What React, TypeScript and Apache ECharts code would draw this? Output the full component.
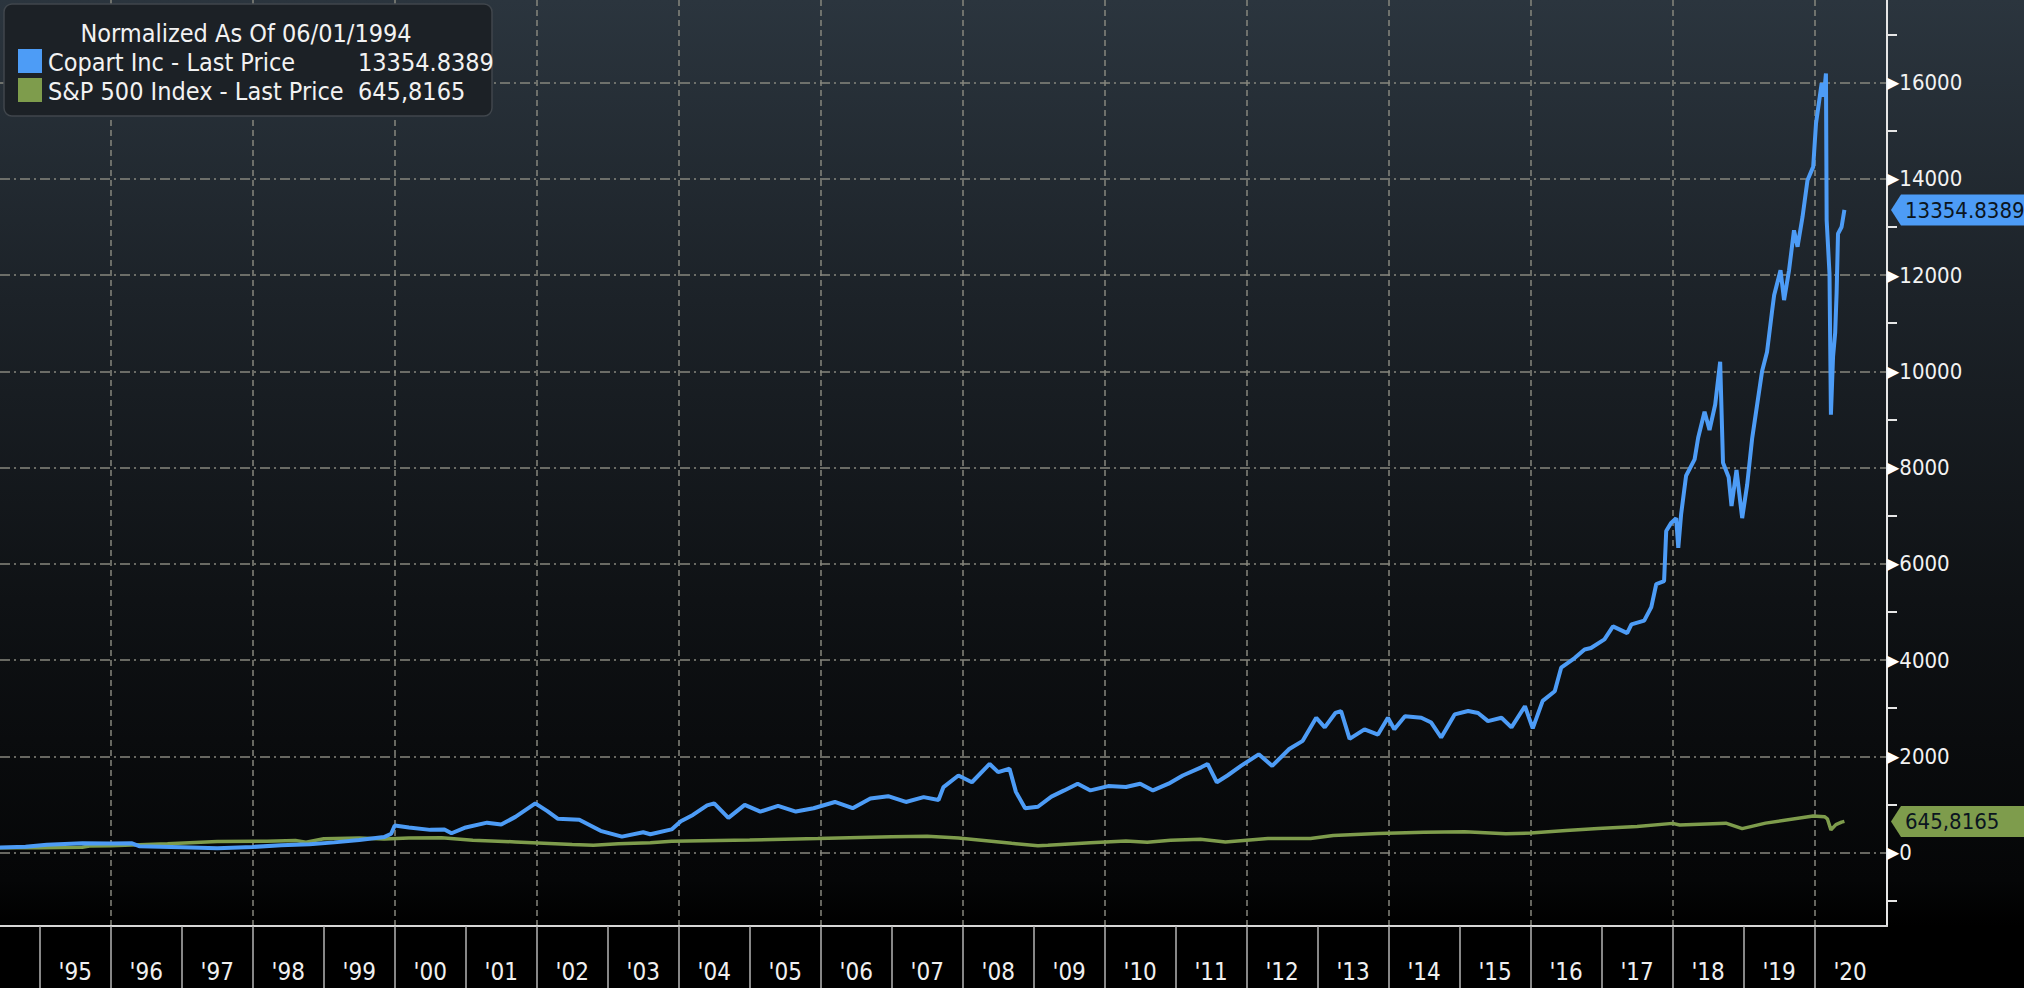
import React, { useEffect, useRef } from 'react';
import * as echarts from 'echarts';

// ---- data (decimal years / normalized values) ----
const copartYears = [
  1994.42, 1994.8, 1995.1, 1995.6, 1996.0, 1996.3, 1996.4, 1997.0, 1997.5, 1998.0,
  1998.4, 1998.8, 1999.15, 1999.5, 1999.85, 1999.95, 2000.0, 2000.2, 2000.5, 2000.7,
  2000.8, 2001.0, 2001.3, 2001.5, 2001.7, 2001.98, 2002.15, 2002.3, 2002.6, 2002.9,
  2003.2, 2003.5, 2003.6, 2003.9, 2004.03, 2004.2, 2004.4, 2004.5, 2004.7, 2004.93,
  2005.15, 2005.4, 2005.65, 2005.9, 2006.2, 2006.45, 2006.7, 2006.95, 2007.2, 2007.45,
  2007.66, 2007.73, 2007.94, 2008.13, 2008.38, 2008.5, 2008.66, 2008.75, 2008.88, 2009.06,
  2009.25, 2009.43, 2009.62, 2009.8, 2010.05, 2010.3, 2010.5, 2010.68, 2010.9, 2011.1,
  2011.36, 2011.45, 2011.58, 2011.73, 2011.92, 2012.17, 2012.36, 2012.6, 2012.79, 2012.98,
  2013.1, 2013.25, 2013.33, 2013.45, 2013.66, 2013.85, 2013.99, 2014.08, 2014.23, 2014.46,
  2014.6, 2014.74, 2014.93, 2015.12, 2015.26, 2015.4, 2015.59, 2015.73, 2015.92, 2016.03,
  2016.17, 2016.34, 2016.43, 2016.62, 2016.76, 2016.85, 2017.04, 2017.16, 2017.36, 2017.42,
  2017.6, 2017.7, 2017.77, 2017.88, 2017.91, 2017.98, 2018.05, 2018.08, 2018.12, 2018.19,
  2018.31, 2018.36, 2018.45, 2018.52, 2018.6, 2018.67, 2018.71, 2018.79, 2018.83, 2018.9,
  2018.98, 2019.05, 2019.12, 2019.17, 2019.26, 2019.33, 2019.4, 2019.43, 2019.52, 2019.57,
  2019.64, 2019.71, 2019.76, 2019.83, 2019.9, 2019.98, 2020.02, 2020.1, 2020.13, 2020.16,
  2020.17, 2020.21, 2020.23, 2020.26, 2020.29, 2020.31, 2020.33, 2020.38, 2020.42,
];
const copartValues = [
  100, 120, 160, 190, 185, 190, 130, 110, 90, 115,
  150, 170, 210, 260, 320, 390, 560, 520, 470, 480,
  400, 520, 620, 580, 740, 1020, 860, 700, 680, 450,
  330, 420, 380, 480, 650, 780, 980, 1020, 720, 990,
  850, 970, 850, 920, 1050, 920, 1120, 1170, 1050, 1150,
  1090, 1360, 1600, 1460, 1840, 1670, 1740, 1260, 920, 950,
  1160, 1290, 1430, 1290, 1380, 1360, 1430, 1290, 1430, 1600,
  1770, 1840, 1460, 1600, 1800, 2040, 1800, 2150, 2320, 2800,
  2600, 2900, 2940, 2360, 2560, 2450, 2800, 2560, 2830, 2800,
  2700, 2390, 2870, 2940, 2900, 2730, 2800, 2600, 3040, 2580,
  3150, 3350, 3840, 4040, 4220, 4250, 4430, 4700, 4560, 4740,
  4820, 5100, 5580, 5640, 6680, 6850, 6950, 6330, 7030, 7830,
  8170, 8620, 9160, 8780, 9310, 10200, 8100, 7800, 7200, 7950,
  6950, 7640, 8600, 9100, 10000, 10400, 11240, 11580, 12100, 11480,
  12100, 12930, 12590, 13210, 13970, 14250, 15150, 15990, 15710, 16190,
  13140, 12030, 9100, 10300, 10800, 11620, 12860, 13000, 13354.8389,
];

const spxYears = [
  1994.42, 1995.0, 1995.6, 1995.7, 1996.0, 1996.8, 1997.5, 1998.2, 1998.6, 1998.75,
  1999.0, 1999.5, 1999.85, 2000.2, 2000.66, 2001.1, 2001.7, 2002.5, 2002.8, 2003.15,
  2003.6, 2003.9, 2005.0, 2005.96, 2007.0, 2007.5, 2007.94, 2008.69, 2009.06, 2009.2,
  2009.8, 2010.3, 2010.6, 2010.93, 2011.35, 2011.7, 2012.3, 2012.9, 2013.22, 2013.85,
  2014.5, 2015.07, 2015.65, 2016.0, 2016.5, 2016.95, 2017.5, 2018.0, 2018.1, 2018.75,
  2018.98, 2019.31, 2019.98, 2020.14, 2020.18, 2020.23, 2020.3, 2020.38, 2020.42,
];
const spxValues = [
  100, 100, 110, 135, 140, 180, 230, 235, 250, 215,
  285, 300, 280, 300, 305, 255, 220, 165, 150, 180,
  200, 235, 260, 290, 325, 335, 300, 190, 140, 150,
  200, 240, 215, 255, 275, 220, 290, 290, 355, 395,
  420, 430, 390, 405, 455, 500, 540, 605, 570, 610,
  495, 610, 760, 745, 700, 470, 580, 630, 645.8165,
];

const yearTicks = [
  1995, 1996, 1997, 1998, 1999, 2000, 2001, 2002, 2003, 2004, 2005, 2006, 2007,
  2008, 2009, 2010, 2011, 2012, 2013, 2014, 2015, 2016, 2017, 2018, 2019, 2020,
];
const gridYears = [1996, 1998, 2000, 2002, 2004, 2006, 2008, 2010, 2012, 2014, 2016, 2018, 2020];
const yMajor = [0, 2000, 4000, 6000, 8000, 10000, 12000, 14000, 16000];
const yMinor = [-1000, 1000, 3000, 5000, 7000, 9000, 11000, 13000, 15000, 17000];

const legendTitle = 'Normalized As Of 06/01/1994';
const seriesNames = ['Copart Inc - Last Price', 'S&P 500 Index - Last Price'];
const lastLabels = ['13354.8389', '645,8165'];
const seriesColors = ['#4d9cf6', '#7e9c4c'];

const X_MIN = 1994.44;
const X_MAX = 2021.02;
const Y_MIN = -1528;
const Y_MAX = 17718;

const FONT = '"DejaVu Sans Condensed", "Liberation Sans Narrow", "DejaVu Sans", sans-serif';
const GRID_COLOR = '#86867e';

export default function App() {
  const ref = useRef<HTMLDivElement>(null);

  useEffect(() => {
    if (!ref.current) return;
    const chart = echarts.init(ref.current, undefined, { renderer: 'svg' });

    const yearLabelValues = yearTicks.map((y) => y + 0.5);
    const copartData = copartYears.map((y, i) => [y, copartValues[i]]);
    const spxData = spxYears.map((y, i) => [y, spxValues[i]]);

    const tag = (color: string, text: string, value: number) => ({
      silent: true,
      symbol: 'path://M0,16 L10,0 L150,0 L150,32 L10,32 Z',
      symbolSize: [150, 31],
      symbolKeepAspect: false,
      symbolOffset: [79, 0],
      itemStyle: { color },
      label: {
        show: true,
        position: [14, 16],
        align: 'left',
        verticalAlign: 'middle',
        color: '#0b1520',
        fontSize: 22,
        fontFamily: FONT,
        formatter: () => text,
      },
      data: [{ coord: [X_MAX, value] }],
    });

    const option: any = {
      animation: false,
      backgroundColor: 'transparent',
      grid: { left: 0, right: 137, top: 0, bottom: 62, containLabel: false },
      xAxis: [
        {
          type: 'value',
          min: X_MIN,
          max: X_MAX,
          position: 'bottom',
          axisLine: { show: true, onZero: false, lineStyle: { color: '#d6d6d6', width: 2 } },
          axisTick: {
            show: true,
            customValues: yearTicks,
            length: 62,
            lineStyle: { color: '#b4b4b4', width: 1.5 },
          },
          axisLabel: {
            customValues: yearLabelValues,
            margin: 34,
            color: '#f0f0f0',
            fontSize: 24,
            fontFamily: FONT,
            formatter: (v: number) => "'" + String(Math.floor(v)).slice(2),
          },
          splitLine: { show: false },
        },
        {
          type: 'value',
          min: X_MIN,
          max: X_MAX,
          position: 'top',
          axisLine: { show: false, onZero: false },
          axisTick: { show: false, customValues: gridYears },
          axisLabel: { show: false },
          splitLine: { show: true, lineStyle: { color: GRID_COLOR, width: 1.5, type: [6, 4] } },
        },
      ],
      yAxis: [
        {
          type: 'value',
          min: Y_MIN,
          max: Y_MAX,
          position: 'right',
          axisLine: { show: true, onZero: false, lineStyle: { color: '#e6e6e6', width: 2 } },
          axisTick: { show: false, customValues: yMajor },
          axisLabel: {
            customValues: yMajor,
            margin: 0,
            formatter: (v: number) => `{t|▶}{v|${v}}`,
            rich: {
              t: { fontSize: 16, color: '#ffffff', fontFamily: '"DejaVu Sans"' },
              v: { fontSize: 22, color: '#f2f2f2', fontFamily: FONT },
            },
          },
          splitLine: {
            show: true,
            lineStyle: { color: GRID_COLOR, width: 1.5, type: [10, 4, 2, 4] },
          },
        },
        {
          type: 'value',
          min: Y_MIN,
          max: Y_MAX,
          position: 'right',
          axisLine: { show: false, onZero: false },
          axisTick: {
            show: true,
            customValues: yMinor,
            length: 10,
            lineStyle: { color: '#e6e6e6', width: 2 },
          },
          axisLabel: { show: false },
          splitLine: { show: false },
        },
      ],
      series: [
        {
          name: seriesNames[1],
          type: 'line',
          xAxisIndex: 0,
          yAxisIndex: 0,
          data: spxData,
          showSymbol: false,
          lineStyle: { color: seriesColors[1], width: 3.5 },
          itemStyle: { color: seriesColors[1] },
          z: 3,
          markPoint: tag(seriesColors[1], lastLabels[1], spxValues[spxValues.length - 1]),
        },
        {
          name: seriesNames[0],
          type: 'line',
          xAxisIndex: 0,
          yAxisIndex: 0,
          data: copartData,
          showSymbol: false,
          lineStyle: { color: seriesColors[0], width: 4 },
          itemStyle: { color: seriesColors[0] },
          z: 4,
          markPoint: tag(seriesColors[0], lastLabels[0], copartValues[copartValues.length - 1]),
        },
      ],
      graphic: [
        {
          type: 'rect',
          z: 100,
          shape: { x: 4, y: 4, width: 488, height: 112, r: 8 },
          style: { fill: '#1c2126', stroke: '#40464c', lineWidth: 1.5 },
        },
        {
          type: 'text',
          z: 101,
          x: 246,
          y: 33,
          style: {
            text: legendTitle,
            fill: '#f2f2f2',
            fontSize: 25,
            fontFamily: FONT,
            align: 'center',
            verticalAlign: 'middle',
          },
        },
        {
          type: 'rect',
          z: 101,
          shape: { x: 18, y: 49, width: 24, height: 24 },
          style: { fill: seriesColors[0] },
        },
        {
          type: 'rect',
          z: 101,
          shape: { x: 18, y: 78, width: 24, height: 24 },
          style: { fill: seriesColors[1] },
        },
        {
          type: 'text',
          z: 101,
          x: 48,
          y: 62,
          style: { text: seriesNames[0], fill: '#f2f2f2', fontSize: 25, fontFamily: FONT, verticalAlign: 'middle' },
        },
        {
          type: 'text',
          z: 101,
          x: 358,
          y: 62,
          style: { text: lastLabels[0], fill: '#f2f2f2', fontSize: 25, fontFamily: FONT, verticalAlign: 'middle' },
        },
        {
          type: 'text',
          z: 101,
          x: 48,
          y: 91,
          style: { text: seriesNames[1], fill: '#f2f2f2', fontSize: 25, fontFamily: FONT, verticalAlign: 'middle' },
        },
        {
          type: 'text',
          z: 101,
          x: 358,
          y: 91,
          style: { text: lastLabels[1], fill: '#f2f2f2', fontSize: 25, fontFamily: FONT, verticalAlign: 'middle' },
        },
      ],
    };

    chart.setOption(option);
    return () => chart.dispose();
  }, []);

  return (
    <div
      ref={ref}
      style={{
        position: 'fixed',
        left: 0,
        top: 0,
        width: 2024,
        height: 988,
        background:
          'linear-gradient(180deg, #2b353e 0px, #1c2228 300px, #0f1215 600px, #050607 880px, #000000 926px, #000000 988px)',
      }}
    />
  );
}
